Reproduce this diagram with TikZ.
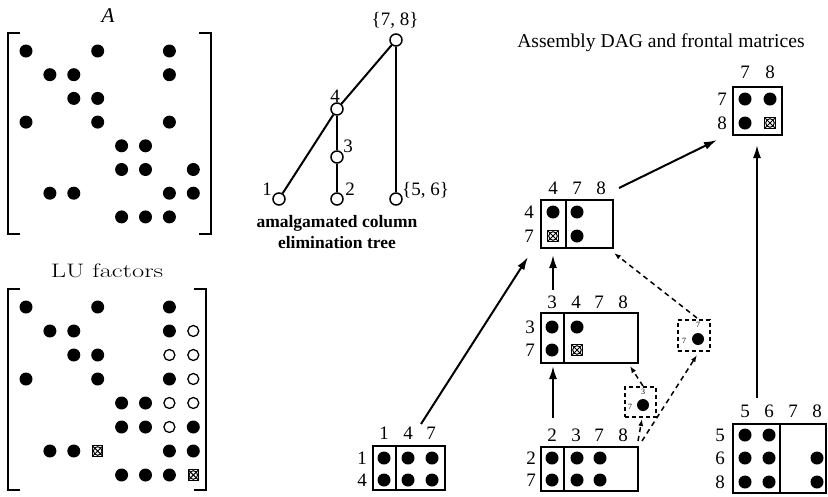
\documentclass[tikz,border=0pt]{standalone}
\usepackage{fontspec}
\newfontfamily\tms{Liberation Serif}
\usetikzlibrary{arrows.meta,calc}
\begin{document}
\begin{tikzpicture}[x=1pt,y=-1pt,
  fd/.style={circle,fill=black,inner sep=0pt,minimum size=13pt},
  sd/.style={circle,fill=black,inner sep=0pt,minimum size=12pt},
  od/.style={circle,draw,fill=white,line width=1.3pt,inner sep=0pt,minimum size=11pt},
  xd/.style={rectangle,draw,line width=1pt,inner sep=0pt,minimum size=10.5pt,
    path picture={\draw[line width=1pt] (path picture bounding box.center) circle (4.3pt);
      \draw[line width=1pt] (path picture bounding box.north west)--(path picture bounding box.south east)
        (path picture bounding box.north east)--(path picture bounding box.south west);}},
  br/.style={line width=1.8pt},
  lab/.style={font=\tms\fontsize{19}{21}\selectfont,inner sep=0pt},
  tiny/.style={font=\tms\fontsize{8}{9}\selectfont,inner sep=0pt},
  tn/.style={circle,draw,fill=white,line width=1.5pt,inner sep=0pt,minimum size=12pt},
  te/.style={line width=2pt},
  fbox/.style={draw,line width=1.5pt,inner sep=0pt},
  dbox/.style={draw,line width=1.5pt,dash pattern=on 4pt off 3pt,inner sep=0pt},
  arr/.style={line width=2pt,-{Latex[length=13pt,width=8pt]}},
  darr/.style={line width=1.5pt,dash pattern=on 5pt off 4pt,-{Latex[length=7pt,width=5pt]}}
]
\useasboundingbox (0,0) rectangle (828,496);

% ---------- matrix A ----------
\node[anchor=base,inner sep=0pt,font=\tms\itshape\fontsize{21}{23}\selectfont] (tA) at (108,22) {A};
\draw[br] (20,33) -- (8,33) -- (8,234) -- (20,234);
\draw[br] (199,33) -- (211,33) -- (211,234) -- (199,234);
\foreach \r/\c in {1/1,1/4,1/7,2/2,2/3,2/7,3/3,3/4,4/1,4/4,4/7,5/5,5/6,6/5,6/6,6/8,7/2,7/3,7/7,7/8,8/5,8/6,8/7}
  \node[fd] (A\r\c) at ({26+(\c-1)*23.9},{51+(\r-1)*23.7}) {};

% ---------- LU factors ----------
\node[anchor=base,inner sep=0pt,font=\fontsize{19.5}{21}\selectfont] (tLU) at (107,277) {\scalebox{1.36}[1]{LU factors}};
\draw[br] (20,289) -- (8,289) -- (8,490) -- (20,490);
\draw[br] (194,289) -- (206,289) -- (206,490) -- (194,490);
\foreach \r/\c in {1/1,1/4,1/7,2/2,2/3,2/7,3/3,3/4,4/1,4/4,4/7,5/5,5/6,6/5,6/6,6/8,7/2,7/3,7/7,7/8,8/5,8/6,8/7}
  \node[fd] (L\r\c) at ({26+(\c-1)*23.9},{307+(\r-1)*24}) {};
\foreach \r/\c in {2/8,3/7,3/8,4/8,5/7,5/8,6/7}
  \node[od] (L\r\c) at ({26+(\c-1)*23.9},{307+(\r-1)*24}) {};
\foreach \r/\c in {7/4,8/8}
  \node[xd] (L\r\c) at ({26+(\c-1)*23.9},{307+(\r-1)*24}) {};

% ---------- elimination tree ----------
\node[tn] (t78) at (396,40) {};
\node[tn] (t4) at (337,109) {};
\node[tn] (t3) at (337,157) {};
\node[tn] (t1) at (279,199) {};
\node[tn] (t2) at (337,199) {};
\node[tn] (t56) at (396,199) {};
\draw[te] (t78) -- (t4);
\draw[te] (t78) -- (t56);
\draw[te] (t4) -- (t1);
\draw[te] (t4) -- (t3);
\draw[te] (t3) -- (t2);
\node[lab,anchor=base] (l78) at (395,25) {\{7, 8\}};
\node[lab,anchor=base] (l4) at (335,102) {4};
\node[lab,anchor=base] (l3) at (348,152) {3};
\node[lab,anchor=base] (l1) at (267,195) {1};
\node[lab,anchor=base] (l2) at (350,195) {2};
\node[lab,anchor=base west] (l56) at (402,195) {\{5, 6\}};
\node[anchor=base,inner sep=0pt,font=\tms\bfseries\fontsize{17.5}{20}\selectfont] (cap1) at (337,227) {amalgamated column};
\node[anchor=base,inner sep=0pt,font=\tms\bfseries\fontsize{17.5}{20}\selectfont] (cap2) at (337,248) {elimination tree};

% ---------- assembly DAG ----------
\node[anchor=base,inner sep=0pt,font=\tms\fontsize{19.6}{21}\selectfont] (tDAG) at (661,47) {Assembly DAG and frontal matrices};

% frontal {7,8}
\node[fbox,minimum width=49pt,minimum height=48pt] (f78) at (757.5,111) {};
\node[fd] (f78a) at (745,99) {}; \node[fd] (f78b) at (770,99) {};
\node[fd] (f78c) at (745,123) {}; \node[xd] (f78d) at (770,123) {};
\node[lab] (f78c1) at (745,72) {7}; \node[lab] (f78c2) at (770,72) {8};
\node[lab] (f78r1) at (722,99) {7}; \node[lab] (f78r2) at (722,123) {8};

% frontal {4}
\node[fbox,minimum width=72pt,minimum height=48pt] (f4) at (577,224) {};
\draw[line width=1.5pt] (566,200) -- (566,248);
\node[fd] (f4a) at (553,212) {}; \node[fd] (f4b) at (577,212) {};
\node[xd] (f4c) at (553,236) {}; \node[fd] (f4d) at (577,236) {};
\node[lab] (f4c1) at (553,188) {4}; \node[lab] (f4c2) at (577,188) {7}; \node[lab] (f4c3) at (601,188) {8};
\node[lab] (f4r1) at (529,212) {4}; \node[lab] (f4r2) at (529,236) {7};

% frontal {3}
\node[fbox,minimum width=97pt,minimum height=50pt] (f3) at (589.5,338) {};
\draw[line width=1.5pt] (564,313) -- (564,363);
\node[fd] (f3a) at (552,327) {}; \node[fd] (f3b) at (577,327) {};
\node[fd] (f3c) at (552,350) {}; \node[xd] (f3d) at (577,350) {};
\node[lab] (f3c1) at (552,302) {3}; \node[lab] (f3c2) at (576,302) {4};
\node[lab] (f3c3) at (599,302) {7}; \node[lab] (f3c4) at (623,302) {8};
\node[lab] (f3r1) at (530,327) {3}; \node[lab] (f3r2) at (530,350) {7};

% frontal {1}
\node[fbox,minimum width=72pt,minimum height=44pt] (f1) at (409,468) {};
\draw[line width=1.5pt] (396,446) -- (396,490);
\foreach \c/\x in {1/384,2/408,3/432} {
  \node[fd] (f1a\c) at (\x,458) {}; \node[fd] (f1b\c) at (\x,480) {};}
\node[lab] (f1c1) at (384,433) {1}; \node[lab] (f1c2) at (408,433) {4}; \node[lab] (f1c3) at (431,433) {7};
\node[lab] (f1r1) at (362,458) {1}; \node[lab] (f1r2) at (362,480) {4};

% frontal {2}
\node[fbox,minimum width=97pt,minimum height=44pt] (f2) at (589.5,469) {};
\draw[line width=1.5pt] (564,447) -- (564,491);
\foreach \c/\x in {1/552,2/577,3/600} {
  \node[fd] (f2a\c) at (\x,458) {}; \node[fd] (f2b\c) at (\x,480) {};}
\node[lab] (f2c1) at (552,435) {2}; \node[lab] (f2c2) at (576,435) {3};
\node[lab] (f2c3) at (599,435) {7}; \node[lab] (f2c4) at (623,435) {8};
\node[lab] (f2r1) at (531,458) {2}; \node[lab] (f2r2) at (531,480) {7};

% frontal {5,6}
\node[fbox,minimum width=93pt,minimum height=69pt] (f56) at (779.5,458.5) {};
\draw[line width=1.5pt] (780,424) -- (780,493);
\foreach \r/\y in {1/435,2/458,3/482} {
  \node[fd] (f56a\r) at (745,\y) {}; \node[fd] (f56b\r) at (769,\y) {};}
\node[fd] (f56c2) at (817,458) {}; \node[fd] (f56c3) at (817,482) {};
\node[lab] (f56c1) at (745,411) {5}; \node[lab] (f56cc2) at (769,411) {6};
\node[lab] (f56cc3) at (793,411) {7}; \node[lab] (f56cc4) at (817,411) {8};
\node[lab] (f56r1) at (720,435) {5}; \node[lab] (f56r2) at (720,458) {6}; \node[lab] (f56r3) at (720,482) {8};

% dashed contribution blocks
\node[dbox,minimum width=32pt,minimum height=31pt] (d7) at (694,335.5) {};
\node[sd] (d7d) at (698,339) {};
\node[tiny] (d7c) at (698,325) {7}; \node[tiny] (d7r) at (684,341) {7};
\node[dbox,minimum width=31pt,minimum height=30pt] (d3) at (640.5,402) {};
\node[sd] (d3d) at (643,405) {};
\node[tiny] (d3c) at (643,392) {3}; \node[tiny] (d3r) at (630,407) {7};

% connector end points
\coordinate (p1s) at (421,424); \coordinate (p1e) at (528,257);
\coordinate (p2s) at (553,418); \coordinate (p2e) at (553,366);
\coordinate (p3s) at (553,290); \coordinate (p3e) at (553,255);
\coordinate (p4s) at (619,188); \coordinate (p4e) at (717,140);
\coordinate (p5s) at (757,398); \coordinate (p5e) at (757,145);
\coordinate (q1s) at (638,441); \coordinate (q1e) at (642,419);
\coordinate (q2s) at (642,441); \coordinate (q2e) at (697,355);
\coordinate (q3s) at (643,386); \coordinate (q3e) at (630,366);
\coordinate (q4s) at (697,318); \coordinate (q4e) at (614,253);

\draw[arr] (p1s) -- (p1e);
\draw[arr] (p2s) -- (p2e);
\draw[arr] (p3s) -- (p3e);
\draw[arr] (p4s) -- (p4e);
\draw[arr] (p5s) -- (p5e);
\draw[darr] (q1s) -- (q1e);
\draw[darr] (q2s) -- (q2e);
\draw[darr] (q3s) -- (q3e);
\draw[darr] (q4s) -- (q4e);
\end{tikzpicture}
\end{document}
